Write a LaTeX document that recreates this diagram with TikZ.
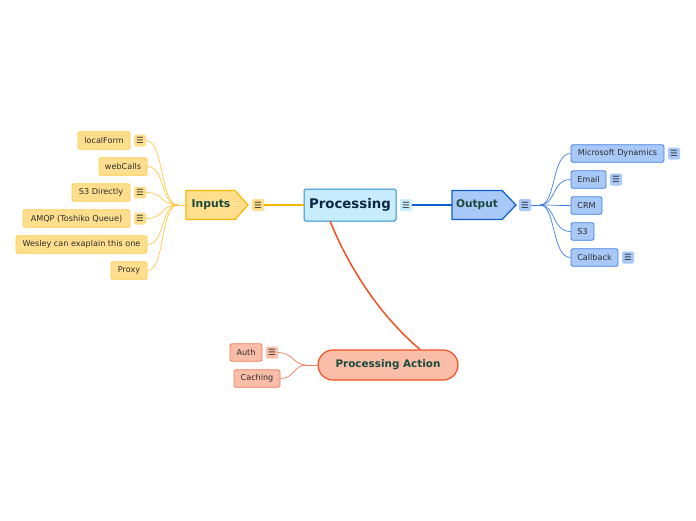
\documentclass[tikz,border=0pt]{standalone}
\usepackage{fontspec}
\setmainfont{DejaVu Sans}
\usetikzlibrary{shapes.misc}
\definecolor{inFill}{HTML}{FFDF8E}
\definecolor{inLine}{HTML}{FFC947}
\definecolor{inMain}{HTML}{F5B700}
\definecolor{outFill}{HTML}{A8C8F8}
\definecolor{outLine}{HTML}{3D7FE3}
\definecolor{outMain}{HTML}{0B5FD0}
\definecolor{paFill}{HTML}{F9BDA8}
\definecolor{paLine}{HTML}{F27A5A}
\definecolor{paMain}{HTML}{F05022}
\definecolor{prFill}{HTML}{C7ECFD}
\definecolor{prLine}{HTML}{2A8BCB}
\definecolor{txt}{HTML}{2B2B2B}
\definecolor{navy}{HTML}{0B2648}
\definecolor{dgreen}{HTML}{1B4A3C}
\tikzset{
  leaf/.style={rounded corners=2pt, line width=0.8pt, inner sep=0pt, minimum height=17.5pt,
    font=\fontsize{8.1}{9}\selectfont, text=txt, anchor=center},
  inleaf/.style={leaf, draw=inLine, fill=inFill},
  outleaf/.style={leaf, draw=outLine, fill=outFill},
  paleaf/.style={leaf, draw=paLine, fill=paFill},
  note/.style={rounded corners=2pt, inner sep=0pt, minimum width=12pt, minimum height=12pt,
    font=\fontsize{8.5}{9}\selectfont, text=txt},
  inlink/.style={draw=inLine, line width=0.7pt},
  outlink/.style={draw=outLine, line width=0.7pt},
  palink/.style={draw=paLine, line width=0.7pt},
}
\begin{document}
\begin{tikzpicture}[x=1pt,y=-1pt]
\useasboundingbox (0,0) rectangle (696,520);
% Processing
\node[draw=prLine, fill=prFill, line width=1pt, rounded corners=1.5pt, minimum width=92pt, minimum height=32pt,
  inner sep=0pt, font=\bfseries\fontsize{13.3}{14}\selectfont, text=navy] (proc) at (350,205) {Processing};
\node[note, fill=prFill] (procnote) at (406,205) {☰};
% Inputs
\draw[draw=inMain, fill=inFill, line width=1.2pt] (186,190.5) -- (235,190.5) -- (248,205) -- (235,219.5) -- (186,219.5) -- cycle;
\node[inner sep=0pt, minimum width=62pt, minimum height=29pt, text=dgreen, font=\bfseries\fontsize{10.8}{11}\selectfont] (inputs) at (217,205) {\hspace*{-12pt}Inputs};
\node[note, fill=inFill] (innote) at (258,205) {☰};
% Output
\draw[draw=outMain, fill=outFill, line width=1.2pt] (452,190.5) -- (502,190.5) -- (516,205) -- (502,219.5) -- (452,219.5) -- cycle;
\node[inner sep=0pt, minimum width=64pt, minimum height=29pt, text=dgreen, font=\bfseries\fontsize{10.6}{11}\selectfont] (output) at (484,205) {\hspace*{-14pt}Output};
\node[note, fill=outFill] (outnote) at (525,205) {☰};
% Processing Action
\node[draw=paMain, fill=paFill, line width=1.2pt, rounded rectangle, minimum width=140pt, minimum height=30pt,
  inner sep=0pt, text=dgreen, font=\bfseries\fontsize{10.4}{11}\selectfont] (pa) at (388,365) {Processing Action};
% main links
\draw[draw=inMain, line width=2pt] (proc.west) -- (innote.east);
\draw[draw=outMain, line width=2pt] (procnote.east) -- (output.west);
\coordinate (pastart) at (330,221);
\draw[draw=paMain, line width=1.5pt] (pastart) .. controls (352,275) and (385,320) .. ([xshift=32pt]pa.north);
% Inputs leaves
\node[inleaf, minimum width=52pt] (lf) at (104,140.5) {localForm};
\node[note, fill=inFill] (lfn) at (140,140.5) {☰};
\node[inleaf, minimum width=48pt] (wc) at (123,166.5) {webCalls};
\node[inleaf, minimum width=58pt] (s3d) at (101,192.5) {S3 Directly};
\node[note, fill=inFill] (s3dn) at (140,192.5) {☰};
\node[inleaf, minimum width=107pt] (amqp) at (76.5,218.5) {AMQP (Toshiko Queue)};
\node[note, fill=inFill] (amqpn) at (140,218.5) {☰};
\node[inleaf, minimum width=131pt] (wes) at (81.5,244.5) {Wesley can exaplain this one};
\node[inleaf, minimum width=36pt] (prx) at (129,270.5) {Proxy};
\coordinate (inj) at (178,205);
\foreach \n in {lfn,wc,s3dn,amqpn,wes,prx}{
  \draw[inlink] (\n.east) .. controls +(18,0) and (160,205) .. (inj);
}
\draw[inlink] (inj) -- (186,205);
% Output leaves
\node[outleaf, minimum width=93pt] (md) at (617.5,153.5) {Microsoft Dynamics};
\node[note, fill=outFill] (mdn) at (674,153.5) {☰};
\node[outleaf, minimum width=35pt] (em) at (588.5,179.5) {Email};
\node[note, fill=outFill] (emn) at (616,179.5) {☰};
\node[outleaf, minimum width=31pt] (crm) at (586.5,205.5) {CRM};
\node[outleaf, minimum width=23pt] (s3) at (582.5,231.5) {S3};
\node[outleaf, minimum width=47pt] (cb) at (594.5,257.5) {Callback};
\node[note, fill=outFill] (cbn) at (628,257.5) {☰};
\coordinate (outj) at (540,205);
\draw[outlink] (outnote.east) -- (outj);
\foreach \n in {md,em,crm,s3,cb}{
  \draw[outlink] (outj) .. controls (556,205) and ([xshift=-19pt]\n.west) .. (\n.west);
}
% PA leaves
\node[paleaf, minimum width=32pt] (auth) at (246,352.5) {Auth};
\node[note, fill=paFill] (authn) at (272,352.5) {☰};
\node[paleaf, minimum width=46pt] (cach) at (257,378.5) {Caching};
\coordinate (paj) at (306,365);
\draw[palink] (pa.west) -- (paj);
\foreach \n in {authn,cach}{
  \draw[palink] (\n.east) .. controls +(14,0) and (294,365) .. (paj);
}
\end{tikzpicture}
\end{document}
